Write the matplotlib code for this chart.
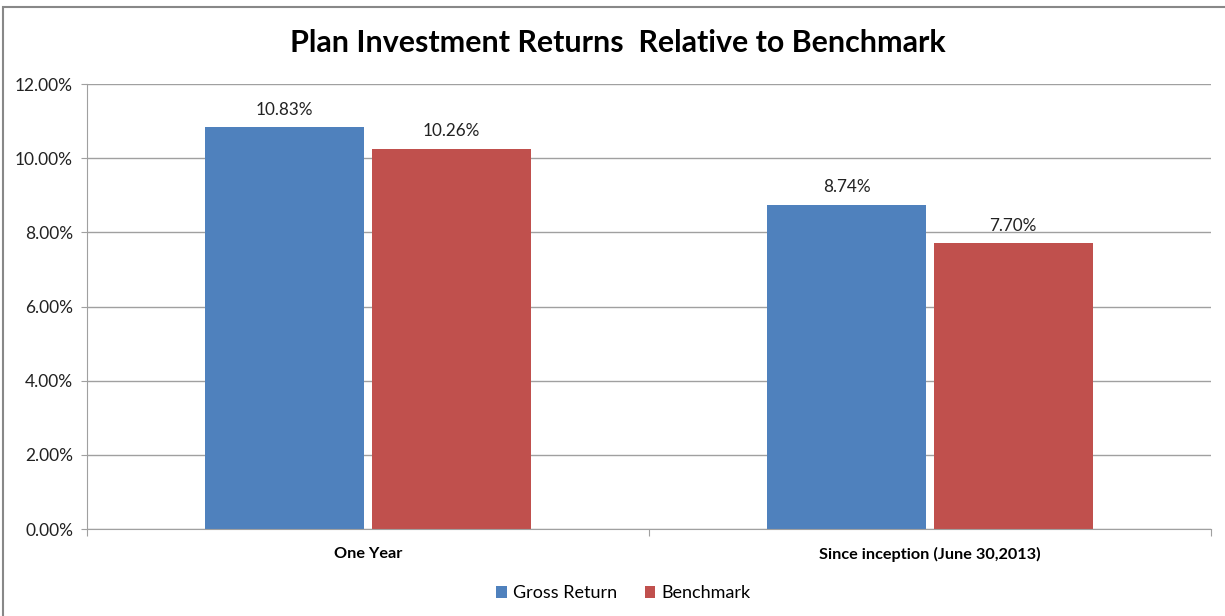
import matplotlib.pyplot as plt
from matplotlib.patches import Rectangle
from matplotlib.ticker import FuncFormatter
import numpy as np

# Data
categories = ["One Year", "Since inception (June 30,2013)"]
gross_return = [10.83, 8.74]
benchmark = [10.26, 7.70]
series_names = ["Gross Return", "Benchmark"]
colors = ["#4F81BD", "#C0504D"]

plt.rcParams["font.family"] = ["Lato", "DejaVu Sans"]

fig = plt.figure(figsize=(12.25, 6.16), dpi=100)
ax = fig.add_axes([0.0710, 0.1412, 0.9176, 0.7224])

x = np.arange(len(categories))
width = 0.283
offset = 0.148

bars1 = ax.bar(x - offset, gross_return, width, color=colors[0], label=series_names[0], zorder=3)
bars2 = ax.bar(x + offset, benchmark, width, color=colors[1], label=series_names[1], zorder=3)

for bars in (bars1, bars2):
    for b in bars:
        ax.annotate(f"{b.get_height():.2f}%", (b.get_x() + b.get_width() / 2, b.get_height()),
                    xytext=(0, 7), textcoords="offset points", ha="center", va="bottom",
                    fontsize=12.3, color="#222222")

ax.set_xlim(-0.5, 1.5)
ax.set_ylim(0, 12)
ax.set_yticks(np.arange(0, 12.1, 2))
ax.yaxis.set_major_formatter(FuncFormatter(lambda v, p: f"{v:.2f}%"))
ax.tick_params(axis="y", labelsize=12.5, length=4, color="#A0A0A0", pad=6, labelcolor="#222222")

# category ticks at boundaries, labels at centers
ax.set_xticks([-0.5, 0.5, 1.5])
ax.set_xticklabels([])
ax.set_xticks(x, minor=True)
ax.set_xticklabels(categories, minor=True, fontweight="bold", fontsize=11.7)
ax.tick_params(axis="x", which="major", length=5, color="#A0A0A0")
ax.tick_params(axis="x", which="minor", length=0, pad=13)

ax.grid(axis="y", color="#A0A0A0", linewidth=1, zorder=0)
for s in ["top", "right"]:
    ax.spines[s].set_visible(False)
for s in ["left", "bottom"]:
    ax.spines[s].set_color("#A0A0A0")
    ax.spines[s].set_zorder(4)

fig.text(0.504, 0.93, "Plan Investment Returns  Relative to Benchmark", ha="center", va="center",
         fontsize=21.9, fontweight="bold")

fig.legend(loc="center", bbox_to_anchor=(0.509, 0.037), ncol=2, frameon=False, fontsize=13,
           handlelength=0.6, handleheight=0.6, handletextpad=0.35, columnspacing=1.5)

# outer chart border (cut off at right/bottom)
fig.patches.append(Rectangle((3 / 1225, -0.1), 1.2, 0.1 + 1 - 7 / 616, transform=fig.transFigure,
                             fill=False, edgecolor="#888888", linewidth=1.5))

fig.savefig("out.png", dpi=100)
